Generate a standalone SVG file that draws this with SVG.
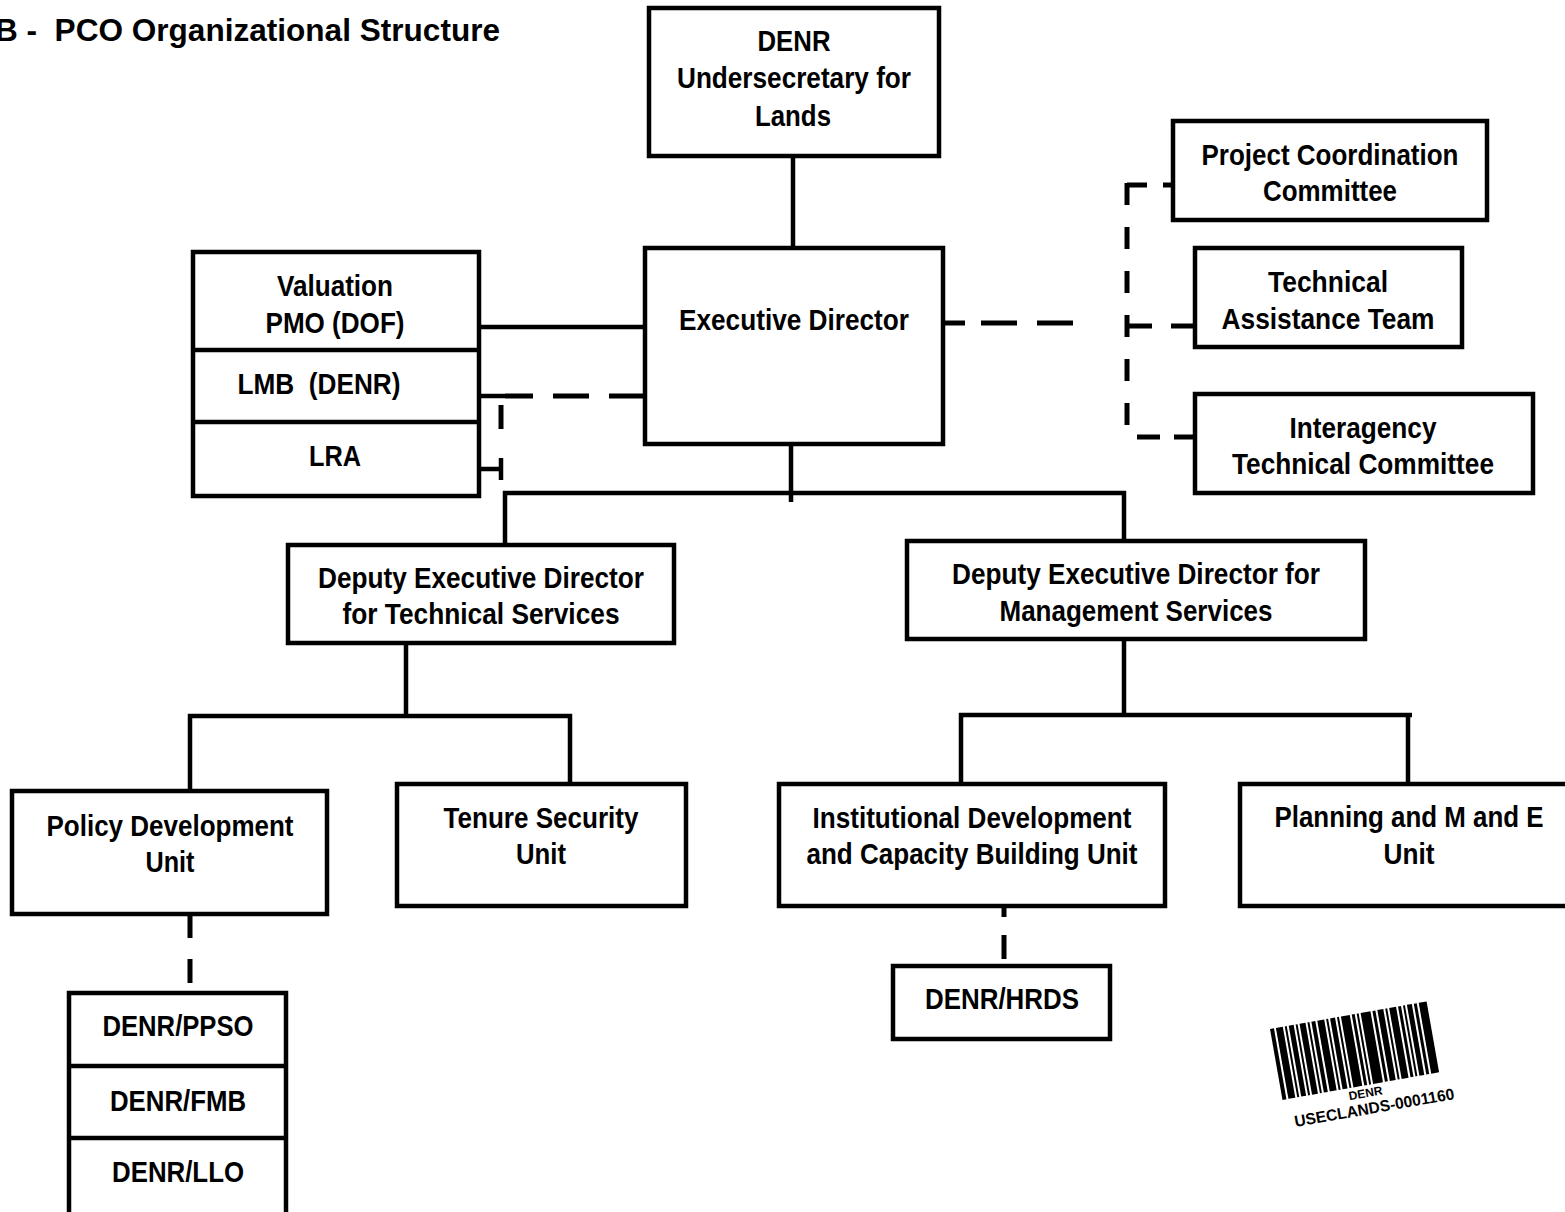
<svg xmlns="http://www.w3.org/2000/svg" width="1565" height="1212" viewBox="0 0 1565 1212">
<style>
.box{fill:#fff;stroke:#000;stroke-width:4.5}
.ln{fill:none;stroke:#000;stroke-width:4.5}
.dash{fill:none;stroke:#000;stroke-width:5;stroke-dasharray:36 20}
.t{font-family:"Liberation Sans",Arial,sans-serif;font-weight:bold;font-size:30px;text-anchor:middle;fill:#000}
.title{font-family:"Liberation Sans",Arial,sans-serif;font-weight:bold;font-size:31px;fill:#000}
</style>
<rect width="1565" height="1212" fill="#fff"/>
<text class="title" x="-5" y="41" textLength="505" lengthAdjust="spacingAndGlyphs" xml:space="preserve">B -  PCO Organizational Structure</text>
<g id="connectors">
<path class="ln" d="M793 156V248"/>
<path class="ln" d="M479 327H645"/>
<path class="ln" d="M479 396H505"/>
<path class="dash" d="M645 396H505"/>
<path class="dash" d="M501 405V455" style="stroke-dasharray:24 32"/>
<path class="ln" d="M479 469H501M501 458V480"/>
<path class="ln" d="M791 444V502M503 493H1126M505 491V545M1124 491V541"/>
<path class="ln" d="M406 643V716M188 716H572M190 714V791M570 714V784"/>
<path class="ln" d="M1124 639V715M959 715H1412M961 713V784M1408 713V784"/>
<path class="dash" d="M190 914V993" style="stroke-dasharray:24 21"/>
<path class="dash" d="M1004 906V966" style="stroke-dasharray:11 18 24 40"/>
<path class="dash" d="M945 323H1093" style="stroke-dasharray:20 16 36 20 36 20"/>
<path class="dash" d="M1127 183V437" style="stroke-dasharray:22 22"/>
<path class="dash" d="M1127 185H1173" style="stroke-dasharray:20 16 12"/>
<path class="dash" d="M1127 326H1195" style="stroke-dasharray:25 19 30"/>
<path class="dash" d="M1127 437H1195" style="stroke-dasharray:0 10 23 14 30"/>
</g>
<g id="denr-usec"><rect class="box" x="649" y="8" width="290" height="148"/>
<text class="t" x="794" y="51" textLength="73" lengthAdjust="spacingAndGlyphs">DENR</text><text class="t" x="794" y="88" textLength="234" lengthAdjust="spacingAndGlyphs">Undersecretary for</text><text class="t" x="793" y="126" textLength="76" lengthAdjust="spacingAndGlyphs">Lands</text></g>
<g id="exec-dir"><rect class="box" x="645" y="248" width="298" height="196"/>
<text class="t" x="794" y="330" textLength="230" lengthAdjust="spacingAndGlyphs">Executive Director</text></g>
<g id="valuation"><rect class="box" x="193" y="252" width="286" height="244"/>
<path class="ln" d="M193 350H479M193 422H479"/>
<text class="t" x="335" y="296" textLength="116" lengthAdjust="spacingAndGlyphs">Valuation</text><text class="t" x="335" y="333" textLength="139" lengthAdjust="spacingAndGlyphs">PMO (DOF)</text>
<text class="t" x="319" y="394" textLength="163" lengthAdjust="spacingAndGlyphs" xml:space="preserve">LMB  (DENR)</text>
<text class="t" x="335" y="466" textLength="52" lengthAdjust="spacingAndGlyphs">LRA</text></g>
<g id="pcc"><rect class="box" x="1173" y="121" width="314" height="99"/>
<text class="t" x="1330" y="165" textLength="257" lengthAdjust="spacingAndGlyphs">Project Coordination</text><text class="t" x="1330" y="201" textLength="134" lengthAdjust="spacingAndGlyphs">Committee</text></g>
<g id="tat"><rect class="box" x="1195" y="248" width="267" height="99"/>
<text class="t" x="1328" y="292" textLength="120" lengthAdjust="spacingAndGlyphs">Technical</text><text class="t" x="1328" y="329" textLength="213" lengthAdjust="spacingAndGlyphs">Assistance Team</text></g>
<g id="itc"><rect class="box" x="1195" y="394" width="338" height="99"/>
<text class="t" x="1363" y="438" textLength="147" lengthAdjust="spacingAndGlyphs">Interagency</text><text class="t" x="1363" y="474" textLength="262" lengthAdjust="spacingAndGlyphs">Technical Committee</text></g>
<g id="ded-tech"><rect class="box" x="288" y="545" width="386" height="98"/>
<text class="t" x="481" y="588" textLength="326" lengthAdjust="spacingAndGlyphs">Deputy Executive Director</text><text class="t" x="481" y="624" textLength="277" lengthAdjust="spacingAndGlyphs">for Technical Services</text></g>
<g id="ded-mgmt"><rect class="box" x="907" y="541" width="458" height="98"/>
<text class="t" x="1136" y="584" textLength="368" lengthAdjust="spacingAndGlyphs">Deputy Executive Director for</text><text class="t" x="1136" y="621" textLength="273" lengthAdjust="spacingAndGlyphs">Management Services</text></g>
<g id="pdu"><rect class="box" x="12" y="791" width="315" height="123"/>
<text class="t" x="170" y="836" textLength="247" lengthAdjust="spacingAndGlyphs">Policy Development</text><text class="t" x="170" y="872" textLength="49" lengthAdjust="spacingAndGlyphs">Unit</text></g>
<g id="tsu"><rect class="box" x="397" y="784" width="289" height="122"/>
<text class="t" x="541" y="828" textLength="195" lengthAdjust="spacingAndGlyphs">Tenure Security</text><text class="t" x="541" y="864" textLength="50" lengthAdjust="spacingAndGlyphs">Unit</text></g>
<g id="idcbu"><rect class="box" x="779" y="784" width="386" height="122"/>
<text class="t" x="972" y="828" textLength="319" lengthAdjust="spacingAndGlyphs">Institutional Development</text><text class="t" x="972" y="864" textLength="331" lengthAdjust="spacingAndGlyphs">and Capacity Building Unit</text></g>
<g id="pme"><rect class="box" x="1240" y="784" width="340" height="122"/>
<text class="t" x="1409" y="827" textLength="269" lengthAdjust="spacingAndGlyphs">Planning and M and E</text><text class="t" x="1409" y="864" textLength="51" lengthAdjust="spacingAndGlyphs">Unit</text></g>
<g id="denr-stack"><rect class="box" x="69" y="993" width="217" height="230"/>
<path class="ln" d="M69 1066H286M69 1138H286"/>
<text class="t" x="178" y="1036" textLength="151" lengthAdjust="spacingAndGlyphs">DENR/PPSO</text><text class="t" x="178" y="1111" textLength="136" lengthAdjust="spacingAndGlyphs">DENR/FMB</text><text class="t" x="178" y="1182" textLength="132" lengthAdjust="spacingAndGlyphs">DENR/LLO</text></g>
<g id="hrds"><rect class="box" x="893" y="966" width="217" height="73"/>
<text class="t" x="1002" y="1009" textLength="154" lengthAdjust="spacingAndGlyphs">DENR/HRDS</text></g>
<g id="barcode" transform="translate(1270 1029) rotate(-10)">
<g fill="#000">
<rect x="0" y="0" width="4" height="72"/><rect x="6" y="0" width="7" height="72"/><rect x="15" y="0" width="2" height="72"/><rect x="19" y="0" width="5" height="72"/><rect x="26" y="0" width="2" height="72"/><rect x="30" y="0" width="6" height="72"/><rect x="38" y="0" width="2" height="72"/><rect x="42" y="0" width="4" height="72"/><rect x="48" y="0" width="7" height="72"/><rect x="57" y="0" width="2" height="72"/><rect x="61" y="0" width="5" height="72"/><rect x="68" y="0" width="2" height="72"/><rect x="72" y="0" width="9" height="72"/><rect x="83" y="0" width="3" height="72"/><rect x="88" y="0" width="2" height="72"/><rect x="92" y="0" width="10" height="72"/><rect x="104" y="0" width="3" height="72"/><rect x="109" y="0" width="6" height="72"/><rect x="117" y="0" width="2" height="72"/><rect x="121" y="0" width="7" height="72"/><rect x="130" y="0" width="3" height="72"/><rect x="135" y="0" width="2" height="72"/><rect x="139" y="0" width="5" height="72"/><rect x="146" y="0" width="3" height="72"/><rect x="151" y="0" width="8" height="72"/>
</g>
<text x="66" y="84" font-family="Liberation Sans,Arial,sans-serif" font-weight="bold" font-size="12">DENR</text>
<text x="8" y="101" font-family="Liberation Sans,Arial,sans-serif" font-weight="bold" font-size="16" textLength="162" lengthAdjust="spacingAndGlyphs">USECLANDS-0001160</text>
</g>
</svg>
